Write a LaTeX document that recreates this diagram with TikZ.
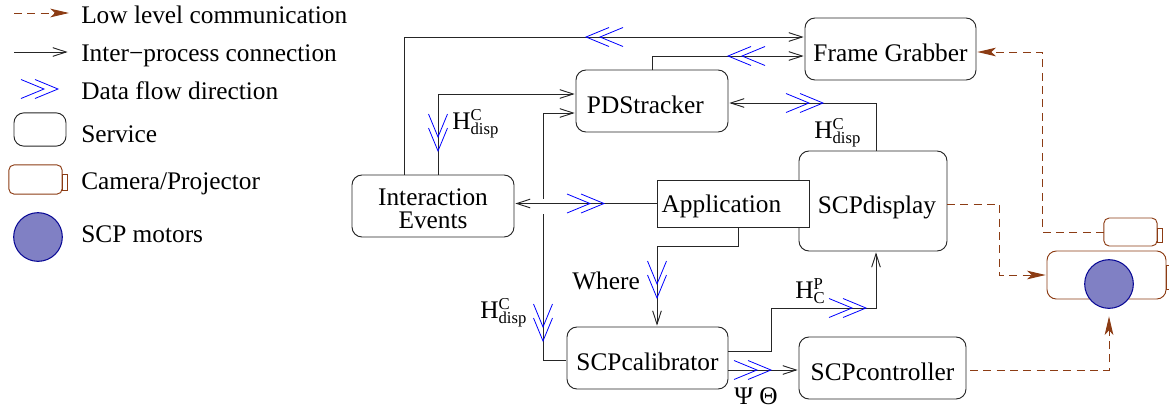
\documentclass[tikz,border=0pt]{standalone}
\usepackage{fontspec}
\setmainfont{Liberation Serif}
\usetikzlibrary{positioning,calc,arrows.meta}
\DeclareMathSizes{19}{19}{12.5}{10}
\definecolor{lowbrown}{RGB}{140,60,20}
\definecolor{motorfill}{RGB}{128,128,196}
\definecolor{motordraw}{RGB}{10,10,150}
\newcommand{\Hdisp}{$\mathrm{H}^{\mathrm{C}}_{\mathrm{disp}}$}
\tikzset{
  service/.style={draw=black!85, line width=0.7pt, rounded corners=7.5pt, inner sep=0pt, outer sep=0pt, align=center},
  lowtext/.style={text height=18pt, text depth=0pt},
  appbox/.style={draw=black!85, line width=0.7pt, fill=white, inner sep=0pt, outer sep=0pt},
  camerabox/.style={draw=lowbrown, line width=0.7pt, rounded corners=4pt, inner sep=0pt, outer sep=0pt},
  camtab/.style={draw=lowbrown, line width=0.6pt, inner sep=0pt, outer sep=0pt, minimum width=3.75pt, anchor=west},
  motor/.style={circle, draw=motordraw, fill=motorfill, line width=0.8pt, minimum size=36.5pt, inner sep=0pt, outer sep=0pt},
  legendtext/.style={anchor=base west, inner sep=0pt},
  conn/.style={draw=black!85, line width=0.7pt, >={Straight Barb[length=10pt,width=6.5pt]}, shorten >=1pt},
  lowlink/.style={draw=lowbrown, line width=0.7pt, dash pattern=on 6pt off 4pt,
    -{Stealth[length=14pt,width=6.5pt,inset=3.5pt,fill=lowbrown,sep=0pt]}},
  flowmark/.pic={
    \draw[blue, line width=0.6pt] (-23,-9.5) -- (0,0) -- (-23,9.5) (-37,-9.5) -- (-14,0) -- (-37,9.5);
  }
}
\begin{document}
\begin{tikzpicture}[x=0.75pt, y=-0.75pt, font=\fontsize{19}{17}\selectfont]
  \useasboundingbox (0,0) rectangle (1169,408);

  % Legend
  \coordinate (legLowA) at (14,13);
  \coordinate (legLowB) at (69,13);
  \coordinate (legConnA) at (14,52);
  \coordinate (legConnB) at (69,52);
  \draw[lowlink] (legLowA) -- (legLowB);
  \draw[conn, ->] (legConnA) -- (legConnB);
  \pic at (58,89) {flowmark};
  \node[service, minimum width=39pt, minimum height=25pt] (legService) at (40,129.5) {};
  \node[camerabox, minimum width=40pt, minimum height=22pt] (legCam) at (35.5,179.5) {};
  \node[camtab, minimum height=12pt] (legTab) at ($(legCam.east)+(0,2.5)$) {};
  \node[motor] (legMotor) at (38,237) {};
  \node[legendtext] (txtLow) at (81,23) {Low level communication};
  \node[legendtext] (txtConn) at (81,61.5) {Inter−process connection};
  \node[legendtext] (txtFlow) at (81,99) {Data flow direction};
  \node[legendtext] (txtService) at (81,142) {Service};
  \node[legendtext] (txtCam) at (81,189) {Camera/Projector};
  \node[legendtext] (txtMotor) at (81,242) {SCP motors};

  % Services
  \node[service, lowtext, minimum width=128.25pt, minimum height=46.5pt] (frame) at (890.5,49) {Frame Grabber};
  \node[service, lowtext, minimum width=114pt, minimum height=46.5pt] (pds) at (652,101) {PDStracker\hspace*{10pt}};
  \node[service, minimum width=121.5pt, minimum height=46.5pt] (events) at (433,206) {\rule{0pt}{17pt}Interaction\\Events};
  \node[service, lowtext, minimum width=111pt, minimum height=75pt] (disp) at (873,201) {\hspace*{6pt}SCPdisplay};
  \node[appbox, text height=14pt, text depth=0pt, minimum width=114pt, minimum height=35.25pt, text width=107pt, align=left, inner xsep=3.5pt] (app) at (733,203.5) {Application};
  \node[service, lowtext, minimum width=120.75pt, minimum height=46.5pt] (calib) at (647.5,358) {SCPcalibrator};
  \node[service, lowtext, minimum width=125.25pt, minimum height=46.5pt] (ctrl) at (882.5,368) {SCPcontroller};

  % Cameras and motors
  \node[camerabox, minimum width=40pt, minimum height=21pt] (smallcam) at (1130.5,232) {};
  \node[camtab, minimum height=10.5pt] (smalltab) at ($(smallcam.east)+(0,3)$) {};
  \node[camerabox, minimum width=89.25pt, minimum height=36pt, rounded corners=7pt] (bigcam) at (1106.5,275) {};
  \node[camtab, minimum height=18pt] (bigtab) at ($(bigcam.east)+(0,2)$) {};
  \node[motor] (scpmotor) at (1109,284) {};

  % Corners of the connectors
  \coordinate (topCorner) at (404,37);
  \coordinate (grabCorner) at (652,56);
  \coordinate (hCorner) at (438,94);
  \coordinate (vTop) at (543,113);
  \coordinate (vGapA) at (543,199);
  \coordinate (vGapB) at (543,214);
  \coordinate (vBot) at (543,360);
  \coordinate (dispCorner) at (876,103);
  \coordinate (appDown) at (738,246);
  \coordinate (whereCorner) at (657,246);
  \coordinate (calibA) at (771,351);
  \coordinate (calibB) at (771,308);
  \coordinate (calibC) at (876,308);
  \coordinate (ctrlLine) at (760,370);

  % Inter-process connections
  \draw[conn, ->] (topCorner |- events.north) -- (topCorner) -- (topCorner -| frame.west);
  \draw[conn, ->] (pds.north) -- (grabCorner) -- (grabCorner -| frame.west);
  \draw[conn, ->] (hCorner |- events.north) -- (hCorner) -- (hCorner -| pds.west);
  \draw[conn, <-, shorten <=1pt, shorten >=0pt] (vTop -| pds.west) -- (vTop) -- (vGapA);
  \draw[conn] (vGapB) -- (vBot) -- (vBot -| calib.west);
  \draw[conn, ->] (app.west) -- (app.west -| events.east);
  \draw[conn, ->] (dispCorner |- disp.north) -- (dispCorner) -- (dispCorner -| pds.east);
  \draw[conn, ->] (appDown |- app.south) -- (appDown) -- (whereCorner) -- (whereCorner |- calib.north);
  \draw[conn, ->] (calibA -| calib.east) -- (calibA) -- (calibB) -- (calibC) -- (calibC |- disp.south);
  \draw[conn, ->] (calib.east |- ctrlLine) -- (ctrl.west |- ctrlLine);

  % Low level links
  \coordinate (ctrlDash) at (1109,370);
  \coordinate (dispDashA) at (999,204);
  \coordinate (dispDashB) at (999,275);
  \coordinate (camDashA) at (1042,232);
  \coordinate (camDashB) at (1042,52);
  \draw[lowlink, shorten <=3pt, shorten >=6pt] (ctrl.east |- ctrlDash) -- (ctrlDash) -- (ctrlDash |- scpmotor.south);
  \draw[lowlink, shorten >=1pt] (disp.east |- dispDashA) -- (dispDashA) -- (dispDashB) -- (dispDashB -| bigcam.west);
  \draw[lowlink, shorten >=1pt] (smallcam.west) -- (camDashA) -- (camDashB) -- (camDashB -| frame.east);

  % Data flow marks
  \pic[rotate=180] at (586,37) {flowmark};
  \pic[rotate=180] at (728,56) {flowmark};
  \pic[rotate=-90] at (438,151) {flowmark};
  \pic[rotate=-90] at (543,341) {flowmark};
  \pic at (604,203.5) {flowmark};
  \pic at (823,103) {flowmark};
  \pic[rotate=-90] at (657,298) {flowmark};
  \pic at (866,308) {flowmark};
  \pic at (771,370) {flowmark};

  % Labels
  \node[legendtext] (lblH1) at (452,129) {\Hdisp};
  \node[legendtext] (lblH2) at (814,138) {\Hdisp};
  \node[legendtext] (lblH3) at (480,318) {\Hdisp};
  \node[legendtext] (lblWhere) at (572,289) {Where};
  \node[legendtext] (lblHP) at (795,298) {$\mathrm{H}^{\mathrm{P}}_{\mathrm{C}}$};
  \node[legendtext] (lblAngles) at (734,404) {Ψ Θ};
\end{tikzpicture}
\end{document}
